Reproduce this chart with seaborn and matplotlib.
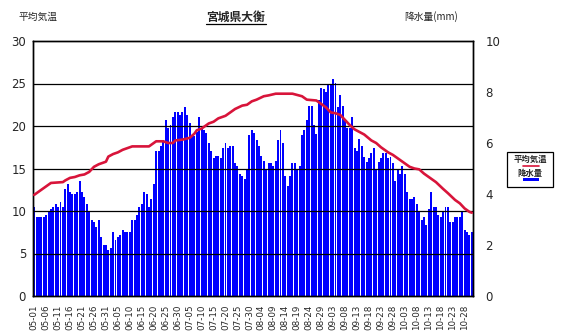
import numpy as np
import pandas as pd
import matplotlib
matplotlib.use("Agg")
import matplotlib.pyplot as plt
import seaborn as sns
from matplotlib.lines import Line2D
from matplotlib.patches import Rectangle

sns.set_theme(style="white")
plt.rcParams['font.family'] = ['Noto Sans CJK JP', 'DejaVu Sans']

# ---- data ----
dates = pd.date_range("2001-05-01", "2001-10-31", freq="D").strftime("%m-%d").tolist()

# precipitation (mm, right axis)
precip_mm = [
    3.50, 3.10, 3.10, 3.10, 3.10, 3.17, 3.33, 3.40, 3.50, 3.60,
    3.50, 3.70, 3.50, 4.20, 4.40, 4.07, 4.00, 4.00, 4.07, 4.50,
    4.07, 3.87, 3.60, 3.30, 2.97, 2.90, 2.70, 2.97, 2.30, 2.00,
    2.00, 1.80, 1.87, 2.50, 2.20, 2.30, 2.40, 2.60, 2.50, 2.50,
    2.50, 2.97, 2.97, 3.17, 3.50, 3.60, 4.07, 4.00, 3.50, 3.80,
    4.40, 5.70, 5.70, 5.87, 6.13, 6.90, 6.60, 6.70, 7.00, 7.20,
    7.20, 7.10, 7.20, 7.40, 7.10, 6.80, 6.27, 6.27, 6.43, 7.00,
    6.60, 6.50, 6.40, 6.00, 5.70, 5.40, 5.50, 5.50, 5.40, 5.80,
    6.00, 5.80, 5.87, 5.87, 5.20, 5.10, 4.80, 4.70, 4.60, 4.97,
    6.30, 6.50, 6.40, 6.13, 5.87, 5.50, 5.30, 4.97, 5.20, 5.20,
    5.10, 5.30, 6.13, 6.50, 6.00, 4.70, 4.30, 4.70, 5.20, 5.20,
    4.97, 5.10, 6.30, 6.50, 6.90, 7.47, 7.47, 6.70, 6.37, 7.67,
    8.17, 8.10, 8.00, 8.30, 8.30, 8.50, 8.37, 7.40, 7.90, 7.47,
    6.90, 6.57, 6.57, 7.00, 5.80, 5.67, 6.17, 5.87, 5.47, 5.27,
    5.40, 5.60, 5.80, 4.97, 5.27, 5.40, 5.60, 5.60, 5.40, 5.47,
    5.20, 4.50, 4.97, 4.77, 5.10, 4.77, 4.07, 3.80, 3.80, 3.87,
    3.60, 3.33, 2.97, 3.10, 2.77, 3.40, 4.07, 3.50, 3.50, 3.17,
    3.10, 3.33, 3.50, 3.50, 2.90, 2.90, 3.10, 3.10, 3.10, 3.33,
    2.57, 2.50, 2.40, 2.50,
]

# mean temperature (deg C, left axis), read at sampled days
temp_day = [0, 2, 5, 7, 12, 13, 15, 17, 19, 21, 23, 25, 27, 29, 30, 31, 33, 35,
            37, 39, 41, 48, 49, 51, 54, 56, 58, 59, 62, 65, 67, 68, 70, 73, 75,
            77, 80, 82, 84, 87, 89, 91, 93, 96, 98, 101, 108, 112, 114, 118,
            119, 122, 124, 126, 128, 130, 132, 134, 136, 138, 141, 143, 145,
            148, 150, 152, 154, 157, 159, 161, 163, 165, 168, 171, 173, 176,
            178, 180, 182, 183]
temp_val = [11.9, 12.3, 12.9, 13.3, 13.4, 13.6, 13.9, 14.0, 14.2, 14.3, 14.6,
            15.2, 15.5, 15.7, 15.8, 16.4, 16.7, 16.9, 17.2, 17.4, 17.6, 17.6,
            17.8, 18.2, 18.2, 18.0, 18.0, 18.3, 18.4, 18.6, 19.1, 19.5, 19.7,
            20.3, 20.5, 20.9, 21.2, 21.6, 22.0, 22.4, 22.5, 22.9, 23.1, 23.5,
            23.6, 23.8, 23.8, 23.5, 23.1, 23.0, 22.8, 22.2, 21.6, 21.5, 21.3,
            20.7, 20.1, 19.6, 19.3, 19.0, 18.3, 18.0, 17.5, 16.9, 16.6, 16.2,
            15.8, 15.2, 15.0, 14.9, 14.4, 14.0, 13.4, 12.6, 12.1, 11.3, 10.9,
            10.3, 9.9, 9.8]

left_ticks = [0, 5, 10, 15, 20, 25, 30]
right_ticks = [0, 2, 4, 6, 8, 10]

df_bar = pd.DataFrame({"date": dates, "mm": precip_mm})
df_line = pd.DataFrame({"day": temp_day, "temp": temp_val})

# ---- figure ----
W, H = 567, 334
fig = plt.figure(figsize=(W / 100, H / 100), dpi=100)
fig.patch.set_facecolor("white")
L, R, T, B = 33, 473, 41, 296
ax_t = fig.add_axes([L / W, 1 - B / H, (R - L) / W, (B - T) / H])
ax_p = ax_t.twinx()

# bars (precipitation) on right axis
sns.barplot(data=df_bar, x="date", y="mm", ax=ax_p, color="#0000FF",
            saturation=1, width=0.82, linewidth=0, order=dates)
ax_p.set_ylim(0, 10)
ax_p.set_yticks(right_ticks)
ax_p.set_yticklabels([str(v) for v in right_ticks], fontsize=8.5, family="DejaVu Sans")
ax_p.tick_params(axis="y", length=0, pad=9)
ax_p.set_ylabel("")
ax_p.set_xlabel("")

# temperature line on left axis, above bars
ax_t.set_zorder(ax_p.get_zorder() + 1)
ax_t.patch.set_visible(False)
sns.lineplot(data=df_line, x="day", y="temp", ax=ax_t, color="#D8143A",
             linewidth=1.9, zorder=5)
ax_t.set_ylim(0, 30)
ax_t.set_xlim(-0.5, len(dates) - 0.5)
ax_t.set_yticks(left_ticks)
ax_t.set_yticklabels([str(v) for v in left_ticks], fontsize=8.5, family="DejaVu Sans")
ax_t.tick_params(axis="y", length=0, pad=5)
for y in left_ticks[1:-1]:
    ax_t.axhline(y, color="black", linewidth=0.9, zorder=3)
ax_t.set_xticks(range(0, len(dates), 5))
ax_t.set_xticklabels(dates[::5], rotation=90, fontsize=6.3, family="DejaVu Sans")
ax_t.tick_params(axis="x", length=0, pad=6)
ax_t.set_xlabel("")
ax_t.set_ylabel("")
ax_p.set_xlim(-0.5, len(dates) - 0.5)
ax_p.tick_params(axis="x", length=0, labelbottom=False)
for a in (ax_t, ax_p):
    for s in a.spines.values():
        s.set_color("black")
        s.set_linewidth(1.0)
ax_t.grid(False)
ax_p.grid(False)

# titles
fig.text(236 / W, 1 - 17 / H, "宮城県大衡", ha="center", va="center",
         fontsize=8.5, fontweight="bold")
fig.add_artist(Line2D([206 / W, 266 / W], [1 - 24 / H, 1 - 24 / H],
                      color="black", linewidth=0.9))
fig.text(38 / W, 1 - 17 / H, "平均気温", ha="center", va="center", fontsize=7)
fig.text(431 / W, 1 - 17 / H, "降水量(mm)", ha="center", va="center", fontsize=7)

# legend box
fig.add_artist(Rectangle((507 / W, 1 - 187 / H), 46 / W, 35 / H,
                         fill=False, edgecolor="black", linewidth=0.9))
fig.text(530 / W, 1 - 159 / H, "平均気温", ha="center", va="center",
         fontsize=6, fontweight="bold")
fig.add_artist(Line2D([523 / W, 539 / W], [1 - 165.5 / H, 1 - 165.5 / H],
                      color="#D8143A", linewidth=1.2))
fig.text(530 / W, 1 - 173 / H, "降水量", ha="center", va="center",
         fontsize=6, fontweight="bold")
fig.add_artist(Rectangle((523 / W, 1 - 181 / H), 16 / W, 3.5 / H,
                         facecolor="#0000FF", edgecolor="none"))

fig.savefig("out.png", dpi=100, facecolor="white")
